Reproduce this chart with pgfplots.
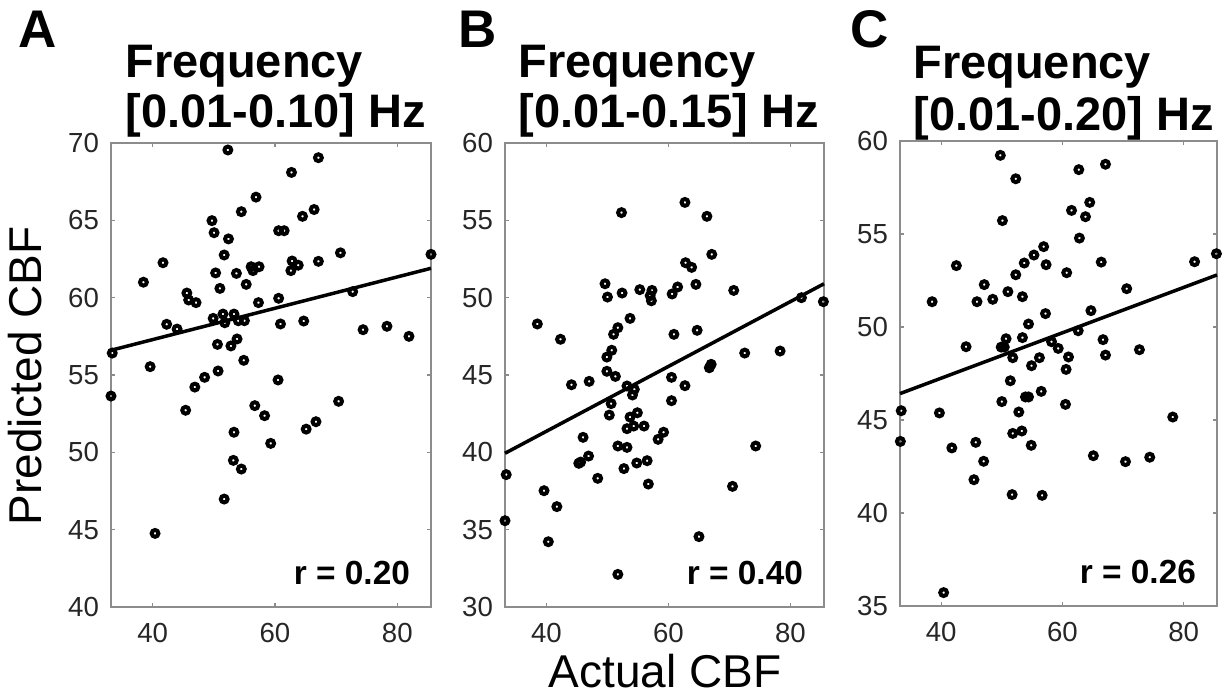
\documentclass[border=0pt]{standalone}
\usepackage{pgfplots}
\pgfplotsset{compat=1.18}
\usepackage{fontspec}
\setmainfont{Liberation Sans}

\newcommand\tf{\fontsize{23.5}{28}\selectfont\bfseries}
\newcommand\lf{\fontsize{26.5}{30}\selectfont\bfseries}
\newcommand\af{\fontsize{23}{27}\selectfont}

\pgfplotsset{
  panel/.style={
    scale only axis, width=160pt, height=232pt,
    anchor=south west, xmin=33.2, xmax=85.5, xtick={40,60,80},
    axis line style={black!45, line width=0.6pt},
    major tick style={black!45, line width=0.6pt},
    major tick length=2pt, tick align=inside,
    /pgf/number format/assume math mode=true,
    ticklabel style={font=\fontsize{13.8}{16}\selectfont, text=black!85},
    xticklabel style={yshift=-4.5pt},
    yticklabel style={xshift=-2.5pt},
    clip=false,
  },
  pts/.style={only marks, mark=o, mark size=1.7pt, mark options={line width=2pt, black}},
  fit/.style={black, line width=1.75pt, no marks},
}
\tikzset{rlab/.style={anchor=base east, xshift=-7pt, yshift=11.5pt, font=\fontsize{16.7}{20}\selectfont\bfseries}}

\begin{document}
\begin{tikzpicture}
\useasboundingbox (0,0) rectangle (614pt,-349pt);

% panel A
\begin{axis}[panel, at={(55.5pt,-303.5pt)}, ymin=40, ymax=70, ytick={40,45,...,70}]
\addplot[pts] coordinates {
(52.3,69.55) (67.1,69.05) (62.7,68.1) (56.9,66.5) (54.5,65.56) (66.4,65.7)
(64.5,65.26) (49.7,64.98) (50.05,64.2) (52.4,63.8) (60.6,64.33) (61.5,64.33)
(51.7,62.76) (41.7,62.26) (70.7,62.9) (85.5,62.8) (62.8,62.37) (63.8,62.1)
(67.1,62.35) (62.6,61.75) (38.5,61.0) (50.3,61.6) (53.7,61.57) (56.1,62.0)
(57.4,62.0) (56.4,61.75) (55.3,60.86) (51.0,60.6) (45.6,60.3) (45.9,59.85)
(47.1,59.68) (57.3,59.68) (60.6,59.96) (72.7,60.39) (49.9,58.66) (51.5,58.94)
(53.3,58.94) (51.8,58.38) (54.0,58.51) (55.0,58.51) (42.3,58.28) (44.0,57.97)
(60.9,58.3) (64.7,58.49) (74.4,57.93) (78.3,58.15) (81.9,57.5) (33.4,56.42)
(50.6,56.98) (53.8,57.33) (52.8,56.88) (54.9,55.95) (39.6,55.54) (50.7,55.26)
(48.5,54.85) (46.9,54.22) (60.5,54.68) (33.2,53.64) (45.4,52.72) (56.7,53.02)
(58.3,52.37) (70.4,53.3) (66.7,51.98) (65.1,51.5) (53.3,51.3) (59.3,50.58)
(53.2,49.48) (54.5,48.92) (51.7,46.98) (40.4,44.76)
};
\addplot[fit] coordinates {(33.2,56.6) (85.5,61.9)};
\node[rlab] at (rel axis cs:1,0) {r = 0.20};
\end{axis}

% panel B
\begin{axis}[panel, at={(252.5pt,-303.5pt)}, width=159.5pt, ymin=30, ymax=60, ytick={30,35,...,60}]
\addplot[pts] coordinates {
(62.7,56.16) (52.3,55.5) (66.3,55.26) (67.1,52.8) (62.8,52.26) (63.8,51.96)
(49.6,50.9) (50.0,50.04) (52.4,50.3) (55.3,50.52) (57.3,50.47) (57.0,50.13)
(57.2,49.8) (60.6,50.24) (61.5,50.69) (64.5,50.86) (70.7,50.47) (81.8,50.0)
(85.4,49.74) (38.5,48.3) (42.3,47.31) (53.7,48.66) (51.7,48.06) (51.0,47.63)
(60.9,47.63) (64.7,47.89) (50.7,46.6) (49.9,46.16) (72.5,46.42) (78.3,46.55)
(67.0,45.69) (66.7,45.47) (49.9,45.24) (51.3,44.91) (44.1,44.37) (47.0,44.59)
(60.5,44.85) (62.7,44.31) (53.2,44.29) (54.4,44.07) (54.1,43.71) (60.5,43.34)
(50.6,43.15) (50.3,42.41) (53.7,42.28) (54.9,42.56) (53.2,41.53) (54.3,41.7)
(56.0,41.7) (59.2,41.3) (58.3,40.84) (46.0,40.97) (51.7,40.41) (53.2,40.32)
(74.3,40.41) (46.9,39.76) (45.3,39.29) (45.6,39.37) (54.8,39.31) (56.5,39.46)
(52.7,38.95) (56.7,37.95) (48.4,38.32) (33.4,38.56) (39.6,37.52) (41.7,36.49)
(70.5,37.8) (33.2,35.58) (40.3,34.22) (65.0,34.55) (51.7,32.11)
};
\addplot[fit] coordinates {(33.2,39.94) (85.5,50.9)};
\node[rlab] at (rel axis cs:1,0) {r = 0.40};
\end{axis}

% panel C
\begin{axis}[panel, at={(450pt,-303pt)}, width=158.5pt, height=232.5pt, ymin=35, ymax=60, ytick={35,40,...,60}]
\addplot[pts] coordinates {
(49.75,59.23) (52.3,57.97) (62.7,58.46) (67.1,58.75) (64.5,56.7) (61.5,56.27)
(63.8,55.93) (50.1,55.72) (62.8,54.78) (56.9,54.32) (55.3,53.87) (53.7,53.44)
(57.3,53.35) (42.5,53.3) (66.4,53.49) (81.8,53.51) (85.4,53.94) (52.3,52.81)
(60.7,52.92) (47.1,52.28) (51.0,51.9) (53.4,51.63) (38.5,51.36) (45.9,51.36)
(48.5,51.49) (70.6,52.06) (57.2,50.72) (64.7,50.88) (54.4,50.16) (62.6,49.8)
(50.7,49.37) (53.4,49.43) (49.9,48.92) (50.4,48.92) (44.1,48.94) (58.2,49.21)
(59.3,48.85) (66.7,49.32) (72.7,48.78) (51.8,48.35) (56.2,48.35) (61.0,48.39)
(67.1,48.49) (54.9,47.92) (60.6,47.72) (51.4,47.11) (56.5,46.54) (53.9,46.24)
(54.4,46.24) (50.0,45.99) (60.5,45.84) (33.4,45.5) (39.7,45.38) (52.8,45.43)
(78.2,45.16) (51.8,44.28) (53.3,44.41) (33.26,43.85) (41.75,43.5) (45.7,43.8)
(54.85,43.64) (65.1,43.08) (70.4,42.76) (74.4,43.0) (47.0,42.78) (45.4,41.79)
(51.7,40.99) (56.65,40.95) (40.4,35.72)
};
\addplot[fit] coordinates {(33.2,46.42) (85.5,52.8)};
\node[rlab] at (rel axis cs:1,0) {r = 0.26};
\end{axis}

% panel letters and titles
\node[anchor=base west, font=\lf, inner sep=0pt] at (9pt,-23.5pt) {A};
\node[anchor=base west, font=\lf, inner sep=0pt] at (229pt,-23.5pt) {B};
\node[anchor=base west, font=\lf, inner sep=0pt] at (425pt,-23.5pt) {C};
\node[anchor=base west, font=\tf, inner sep=0pt] at (62.5pt,-38.5pt) {Frequency};
\node[anchor=base west, font=\tf, inner sep=0pt] at (62.5pt,-63.5pt) {[0.01-0.10] Hz};
\node[anchor=base west, font=\tf, inner sep=0pt] at (259pt,-38.5pt) {Frequency};
\node[anchor=base west, font=\tf, inner sep=0pt] at (259pt,-63.5pt) {[0.01-0.15] Hz};
\node[anchor=base west, font=\tf, inner sep=0pt] at (456.5pt,-39pt) {Frequency};
\node[anchor=base west, font=\tf, inner sep=0pt] at (456.5pt,-65pt) {[0.01-0.20] Hz};

% axis labels
\node[rotate=90, anchor=base, font=\af, inner sep=0pt] at (20.5pt,-188pt) {Predicted CBF};
\node[anchor=base, font=\af, inner sep=0pt] at (332.5pt,-343.5pt) {Actual CBF};
\end{tikzpicture}
\end{document}
